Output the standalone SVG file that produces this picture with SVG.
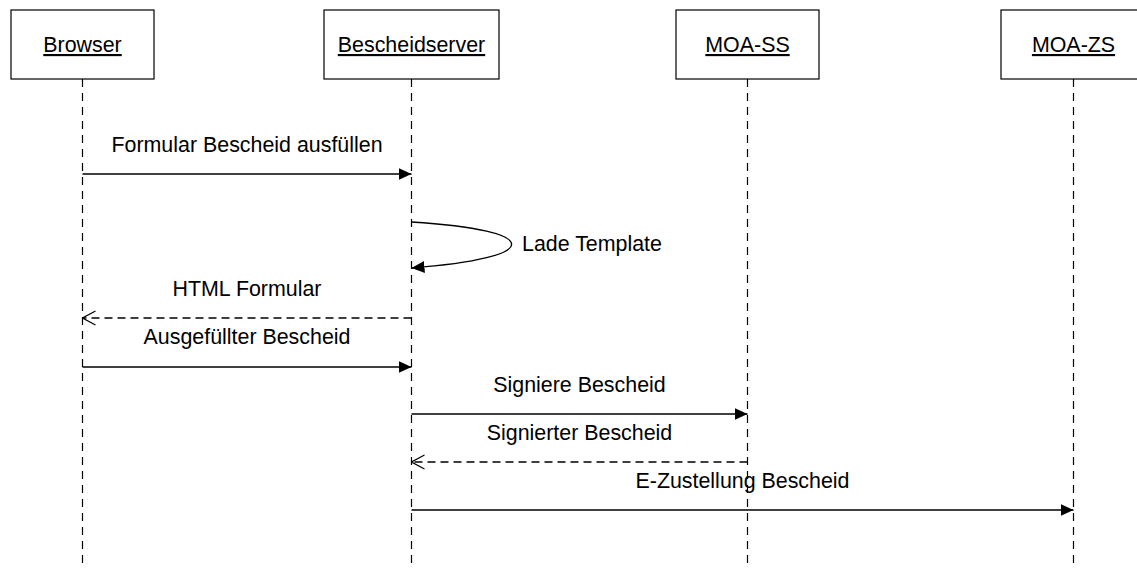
<svg xmlns="http://www.w3.org/2000/svg" width="1137" height="569" viewBox="0 0 1137 569">
<style>
.box{fill:#fff;stroke:#000;stroke-width:1.2}
.life{stroke:#000;stroke-width:1.2;stroke-dasharray:8 6;fill:none}
.t{font-family:"Liberation Sans",Arial,sans-serif;font-size:21.4px;fill:#000}
.nt{text-decoration:underline;text-anchor:middle}
.msg{stroke:#000;stroke-width:1.3;fill:none}
.ret{stroke:#000;stroke-width:1.3;fill:none;stroke-dasharray:8 5}
.mid{text-anchor:middle}
</style>
<defs>
<marker id="solid" viewBox="0 0 13 12" refX="13" refY="6" markerWidth="13" markerHeight="12" markerUnits="userSpaceOnUse" orient="auto">
<path d="M0,0 L13,6 L0,12 Z" fill="#000"/>
</marker>
<marker id="open" viewBox="0 0 14 16" refX="13" refY="8" markerWidth="14" markerHeight="16" markerUnits="userSpaceOnUse" orient="auto">
<path d="M0,1 L13,8 L0,15" fill="none" stroke="#000" stroke-width="1.2"/>
</marker>
</defs>
<rect width="1137" height="569" fill="#fff"/>
<g id="browser">
<rect class="box" x="11" y="10" width="143" height="69"/>
<text class="t nt" x="82.5" y="52">Browser</text>
<line class="life" x1="82.5" y1="79" x2="82.5" y2="569"/>
</g>
<g id="bescheidserver">
<rect class="box" x="324" y="10" width="175" height="69"/>
<text class="t nt" x="411.5" y="52">Bescheidserver</text>
<line class="life" x1="411.5" y1="79" x2="411.5" y2="569"/>
</g>
<g id="moa-ss">
<rect class="box" x="676" y="10" width="143" height="69"/>
<text class="t nt" x="747.5" y="52">MOA-SS</text>
<line class="life" x1="747.5" y1="79" x2="747.5" y2="569"/>
</g>
<g id="moa-zs">
<rect class="box" x="1001" y="10" width="145" height="69"/>
<text class="t nt" x="1073.5" y="52">MOA-ZS</text>
<line class="life" x1="1073.5" y1="79" x2="1073.5" y2="569"/>
</g>
<g id="connectors">
<line class="msg" x1="82.5" y1="174" x2="411.5" y2="174" marker-end="url(#solid)"/>
<text class="t mid" x="247" y="152">Formular Bescheid ausfüllen</text>
<path class="msg" d="M411.5,222 C545,230 545,258 411.5,268" marker-end="url(#solid)"/>
<text class="t" x="522" y="251">Lade Template</text>
<line class="ret" x1="411.5" y1="318" x2="82.5" y2="318" marker-end="url(#open)"/>
<text class="t mid" x="247" y="296">HTML Formular</text>
<line class="msg" x1="82.5" y1="367" x2="411.5" y2="367" marker-end="url(#solid)"/>
<text class="t mid" x="247" y="344">Ausgefüllter Bescheid</text>
<line class="msg" x1="411.5" y1="414" x2="747.5" y2="414" marker-end="url(#solid)"/>
<text class="t mid" x="579.5" y="392">Signiere Bescheid</text>
<line class="ret" x1="747.5" y1="462" x2="411.5" y2="462" marker-end="url(#open)"/>
<text class="t mid" x="579.5" y="440">Signierter Bescheid</text>
<line class="msg" x1="411.5" y1="510" x2="1073.5" y2="510" marker-end="url(#solid)"/>
<text class="t mid" x="742.5" y="488">E-Zustellung Bescheid</text>
</g>
</svg>
